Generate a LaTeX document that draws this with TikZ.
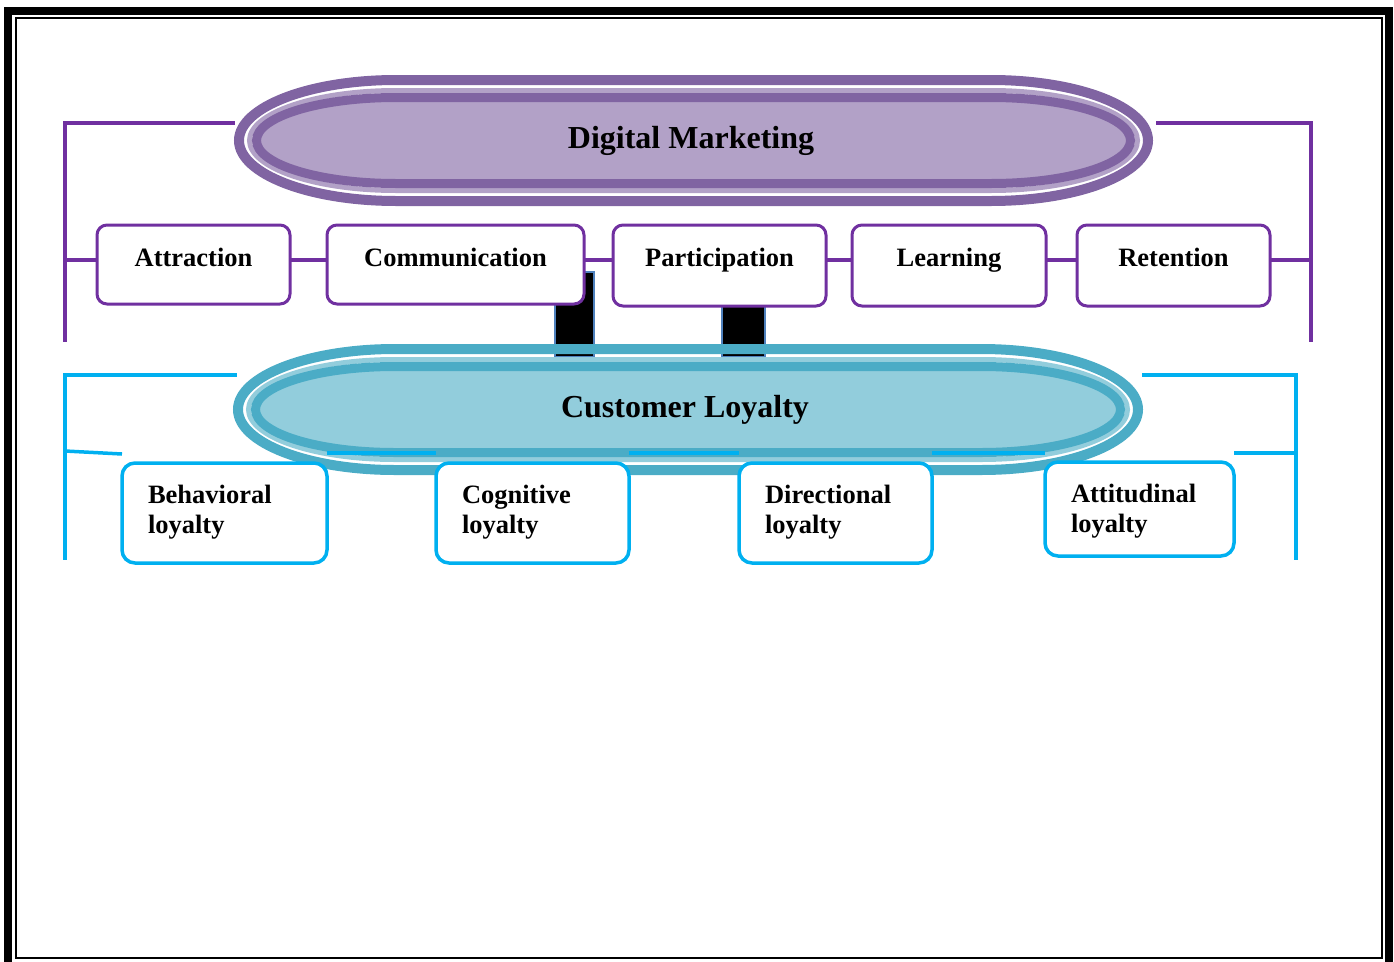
\documentclass[tikz,border=0pt]{standalone}
\usepackage{fontspec}
\setmainfont{Liberation Serif}
\definecolor{cPBand}{HTML}{8064A2}
\definecolor{cPFill}{HTML}{B2A1C7}
\definecolor{cPLine}{HTML}{7030A0}
\definecolor{cTBand}{HTML}{4BACC6}
\definecolor{cTFill}{HTML}{92CDDC}
\definecolor{cBLine}{HTML}{00B0F0}
\definecolor{cBlkEdge}{HTML}{4F81BD}
% stadium path in pixel coordinates (y downwards): x1 y1 x2 y2 rx
\newcommand\stadium[5]{({(#1)+(#5)},{-(#2)}) -- ({(#3)-(#5)},{-(#2)})
  arc[start angle=90,end angle=-90,x radius={#5},y radius={((#4)-(#2))/2}]
  -- ({(#1)+(#5)},{-(#4)})
  arc[start angle=270,end angle=90,x radius={#5},y radius={((#4)-(#2))/2}] -- cycle}
\tikzset{
  pcon/.style={draw=cPLine, line width=3.2pt},
  bcon/.style={draw=cBLine, line width=3.5pt},
  pbox/.style={draw=cPLine, line width=3pt, rounded corners=10pt, fill=white,
    inner sep=0pt, outer sep=0pt, anchor=north west, text height=41pt,
    font=\bfseries\fontsize{26.5}{30}\selectfont},
  bbox/.style={draw=cBLine, line width=3.5pt, rounded corners=13pt, fill=white,
    inner xsep=26pt, inner ysep=0pt, outer sep=0pt, anchor=north west, align=left,
    text height=40.5pt, font=\bfseries\fontsize{26.5}{30}\selectfont},
  blk/.style={fill=black, draw=cBlkEdge, line width=1.5pt, inner sep=0pt,
    outer sep=0pt, anchor=north west},
  title/.style={draw=none, inner sep=0pt, font=\bfseries\fontsize{32}{36}\selectfont},
}
\begin{document}
\begin{tikzpicture}[x=1pt,y=1pt]
\useasboundingbox (0,0) rectangle (1394,-961);
% page frame
\draw[line width=8pt] (8,-11) rectangle (1389,-990);
\draw[line width=2.5pt] (16,-18) rectangle (1382,-958);

% black blocks
\node[blk, minimum width=39pt, minimum height=85pt] (b1) at (555,-272) {};
\node[blk, minimum width=43pt, minimum height=57pt] (b2) at (722,-300) {};

% Digital Marketing stadium
\draw[cPBand, line width=10pt] \stadium{234+5}{75+5}{1153-5}{206-5}{162-5};
\draw[cPFill, line width=5pt] \stadium{234+15.5}{75+15.5}{1153-15.5}{206-15.5}{162-15.5};
\draw[cPBand, fill=cPFill, line width=9pt] \stadium{234+22.5}{75+22.5}{1153-22.5}{206-22.5}{162-22.5};
\node[title, minimum width=919pt, minimum height=131pt] (dm) at (691,-140.5) {Digital Marketing};

% Customer Loyalty stadium
\draw[cTBand, line width=10pt] \stadium{233+5}{344+5}{1143-5}{475-5}{162-5};
\draw[cTFill, line width=5pt] \stadium{233+15.5}{344+15.5}{1143-15.5}{475-15.5}{162-15.5};
\draw[cTBand, fill=cTFill, line width=9pt] \stadium{233+22.5}{344+22.5}{1143-22.5}{475-22.5}{162-22.5};
\node[title, minimum width=910pt, minimum height=131pt] (cl) at (685,-409.5) {Customer Loyalty};

% purple boxes
\node[pbox, minimum width=193pt, minimum height=79pt, text depth=38pt] (att) at (97,-225) {Attraction};
\node[pbox, minimum width=257pt, minimum height=79pt, text depth=38pt] (com) at (327,-225) {Communication};
\node[pbox, minimum width=213pt, minimum height=81pt, text depth=40pt] (par) at (613,-225) {Participation};
\node[pbox, minimum width=194pt, minimum height=81pt, text depth=40pt] (lea) at (852,-225) {Learning};
\node[pbox, minimum width=193pt, minimum height=81pt, text depth=40pt] (ret) at (1077,-225) {Retention};

% blue boxes
\node[bbox, text width=153pt, text depth=59.5pt] (beh) at (122,-463) {Behavioral\\loyalty};
\node[bbox, text width=141pt, text depth=59.5pt] (cog) at (436,-463) {Cognitive\\loyalty};
\node[bbox, text width=141pt, text depth=59.5pt] (dir) at (739,-463) {Directional\\loyalty};
\node[bbox, text width=137pt, text depth=53.5pt] (atl) at (1045,-462) {Attitudinal\\loyalty};

% purple connectors
\coordinate (pl) at (65,-342);
\coordinate (pr) at (1311,-342);
\coordinate (py) at (0,-260);
\draw[pcon] ([yshift=17.5pt,xshift=3.5pt]dm.west) -| (pl);
\draw[pcon] ([yshift=17.5pt,xshift=5.5pt]dm.east) -| (pr);
\draw[pcon] (att.west |- py) -- (pl |- py);
\draw[pcon] (att.east |- py) -- (com.west |- py);
\draw[pcon] (com.east |- py) -- (par.west |- py);
\draw[pcon] (par.east |- py) -- (lea.west |- py);
\draw[pcon] (lea.east |- py) -- (ret.west |- py);
\draw[pcon] (ret.east |- py) -- (pr |- py);

% blue connectors
\coordinate (bl) at (65,-560);
\coordinate (br) at (1296,-560);
\coordinate (by) at (0,-375);
\coordinate (bj) at (0,-453);
\coordinate (bla) at (65,-451);
\draw[bcon] ([xshift=7pt]cl.west |- by) -| (bl);
\draw[bcon] ([xshift=2pt]cl.east |- by) -| (br);
\draw[bcon] (bla) -- ([yshift=9pt]beh.north west);
\draw[bcon] (beh.north east |- bj) -- (cog.north west |- bj);
\draw[bcon] (cog.north east |- bj) -- (dir.north west |- bj);
\draw[bcon] (dir.north east |- bj) -- (atl.north west |- bj);
\draw[bcon] (atl.north east |- bj) -- (br |- bj);
\end{tikzpicture}
\end{document}
